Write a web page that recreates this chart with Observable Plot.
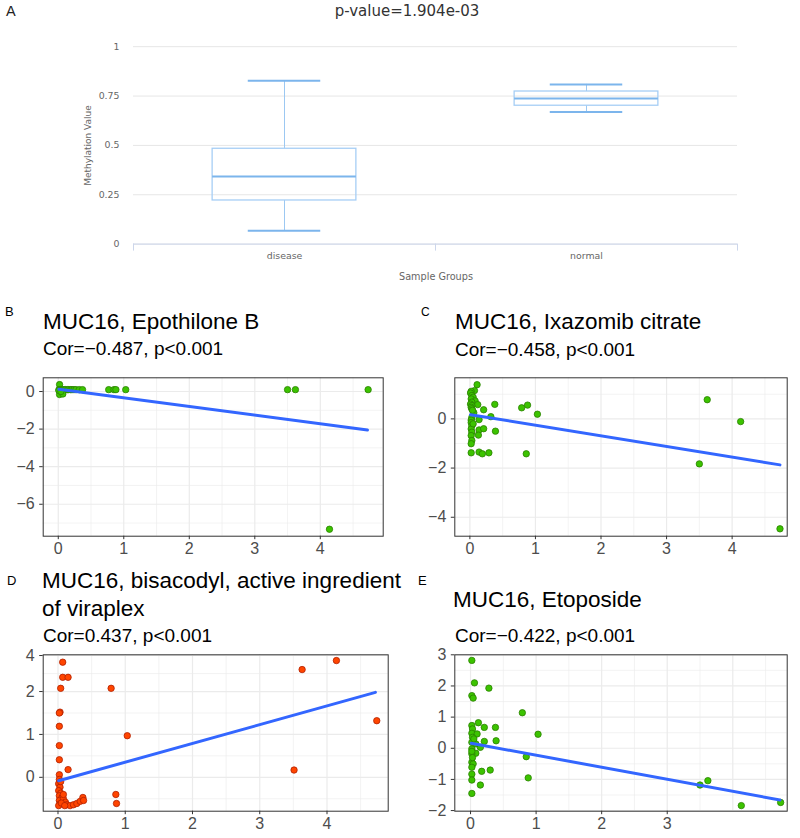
<!DOCTYPE html>
<html>
<head>
<meta charset="utf-8">
<script src="https://cdn.jsdelivr.net/npm/d3@7"></script>
<script src="https://cdn.jsdelivr.net/npm/@observablehq/plot@0.6"></script>
<style>
html,body{margin:0;padding:0;background:#fff;overflow:hidden;}
#root{position:relative;width:800px;height:838px;overflow:hidden;background:#fff;}
.panel{position:absolute;}
.panel svg{background:transparent !important;}
.t{position:absolute;white-space:nowrap;line-height:1;font-family:"Liberation Sans",Arial,sans-serif;color:#000;}
</style>
</head>
<body>
<div id="root"></div>
<script>
// ---------- Panel A: box plot ----------
const groups = ["disease", "normal"];
const whiskerLow = [0.067, 0.669];
const quartile1 = [0.221, 0.701];
const medians = [0.342, 0.737];
const quartile3 = [0.483, 0.773];
const whiskerHigh = [0.828, 0.809];
const aYTicks = [0, 0.25, 0.5, 0.75, 1];
const aYTickLabels = ["0", "0.25", "0.5", "0.75", "1"];

// ---------- Panel B: MUC16, Epothilone B ----------
const bX = [0.02, 0.01, 0.03, 0.06, 0.09, 0.11, 0.14, 0.16, 0.19, 0.21, 0.24, 0.27, 0.32, 0.37, 0.02, 0.07, 0.01, 0.04, 0.77, 0.85, 0.88, 1.03, 3.50, 3.62, 4.73, 4.14];
const bY = [0.37, 0.10, 0.10, 0.10, 0.10, 0.10, 0.10, 0.10, 0.10, 0.10, 0.10, 0.10, 0.10, 0.10, -0.16, -0.13, 0.05, 0.00, 0.10, 0.10, 0.10, 0.10, 0.10, 0.10, 0.10, -7.33];
const bFitX = [0.01, 4.72];
const bFitY = [0.12, -2.05];

// ---------- Panel C: MUC16, Ixazomib citrate ----------
const cX = [0.11, 0.07, 0.02, 0.01, 0.03, 0.05, 0.02, 0.08, 0.03, 0.01, 0.12, 0.03, 0.02, 0.03, 0.21, 0.38, 0.79, 0.88, 1.03, 0.32, 0.03, 0.02, 0.14, 0.02, 0.03, 0.02, 0.03, 0.02, 0.03, 0.02, 0.14, 0.21, 0.13, 0.39, 0.02, 0.14, 0.19, 0.29, 0.86, 3.50, 3.62, 4.13, 4.73, 0.06, 0.04, 0.05];
const cY = [1.39, 1.15, 1.12, 1.05, 0.95, 0.88, 0.81, 0.73, 0.68, 0.60, 0.58, 0.54, 0.47, 0.41, 0.37, 0.59, 0.45, 0.56, 0.19, 0.09, 0.06, -0.05, -0.03, -0.15, -0.27, -0.41, -0.54, -0.68, -0.88, -1.01, -0.45, -0.40, -0.66, -0.50, -1.38, -1.35, -1.42, -1.38, -1.42, -1.83, 0.78, -0.11, -4.47, 0.25, 0.35, -0.20];
const cFitX = [0.01, 4.73];
const cFitY = [0.17, -1.87];

// ---------- Panel D: MUC16, bisacodyl ----------
const dX = [0.07, 0.07, 0.15, 0.04, 0.79, 0.03, 0.02, 0.02, 0.02, 0.02, 0.15, 1.03, 3.63, 4.14, 4.74, 3.51, 0.86, 0.87, 0.02, 0.02, 0.01, 0.03, 0.01, 0.04, 0.02, 0.06, 0.02, 0.08, 0.11, 0.03, 0.13, 0.18, 0.23, 0.28, 0.33, 0.37, 0.38, 0.08, 0.01, 0.05, 0.10, 0.04];
const dY = [3.63, 2.79, 2.79, 2.18, 2.18, 1.52, 1.50, 1.19, 0.74, 0.41, 0.18, 0.97, 3.22, 3.72, 1.32, 0.17, -0.40, -0.61, 0.06, -0.05, -0.15, -0.23, -0.31, -0.37, -0.43, -0.47, -0.54, -0.50, -0.58, -0.62, -0.64, -0.66, -0.64, -0.61, -0.56, -0.47, -0.54, -0.40, -0.66, -0.60, -0.66, -0.10];
const dFitX = [0.01, 4.72];
const dFitY = [-0.08, 1.98];
const dYTicks = [0, 1, 2, 4];

// ---------- Panel E: MUC16, Etoposide ----------
const eX = [0.02, 0.06, 0.28, 0.02, 0.04, 0.79, 0.12, 0.21, 0.38, 0.02, 0.03, 0.02, 0.10, 0.03, 1.03, 0.21, 0.39, 0.02, 0.08, 0.15, 0.02, 0.08, 0.02, 0.02, 0.85, 0.02, 0.04, 0.02, 0.17, 0.30, 0.02, 0.02, 0.88, 0.15, 0.02, 3.50, 3.62, 4.13, 4.73, 0.05, 0.03];
const eY = [2.82, 2.10, 1.93, 1.69, 1.61, 1.14, 0.82, 0.67, 0.67, 0.73, 0.62, 0.48, 0.46, 0.35, 0.45, 0.22, 0.24, 0.19, 0.14, 0.03, -0.02, -0.16, -0.18, -0.10, -0.27, -0.45, -0.50, -0.61, -0.74, -0.70, -0.83, -1.02, -0.95, -1.18, -1.45, -1.18, -1.04, -1.84, -1.74, 0.30, -0.30];
const eFitX = [0.01, 4.72];
const eFitY = [0.16, -1.66];
const eXTicks = [0, 1, 2, 3];

const root = document.getElementById("root");

function place(node, left, top) {
  const d = document.createElement("div");
  d.className = "panel";
  d.style.left = left + "px";
  d.style.top = top + "px";
  d.appendChild(node);
  root.appendChild(d);
}
function text(str, left, baseline, size, extra) {
  const d = document.createElement("div");
  d.className = "t";
  d.textContent = str;
  d.style.fontSize = size + "px";
  d.style.left = left + "px";
  d.style.top = (baseline - 0.847 * size) + "px";
  if (extra) Object.assign(d.style, extra);
  root.appendChild(d);
  return d;
}

// ---------- Draw panel A ----------
{
  const W = 800, H = 290, ML = 133, MR = 63, MT = 46.2, MB = 46.4;
  const bw = (W - ML - MR) / groups.length;
  const boxInset = bw * 0.262;
  const capInset = bw * 0.38;
  const rows = groups.map((g, i) => ({group: g, lo: whiskerLow[i], q1: quartile1[i], med: medians[i], q3: quartile3[i], hi: whiskerHigh[i]}));
  const axisCol = "#ccd6eb";
  const p = Plot.plot({
    width: W, height: H, marginLeft: ML, marginRight: MR, marginTop: MT, marginBottom: MB,
    style: {fontFamily: "DejaVu Sans, sans-serif", fontSize: "9.4px", color: "#666", background: "transparent"},
    x: {domain: groups, padding: 0},
    y: {domain: [0, 1]},
    marks: [
      Plot.gridY(aYTicks, {stroke: "#e6e6e6", strokeOpacity: 1, strokeWidth: 1}),
      Plot.ruleY([0], {stroke: axisCol, strokeWidth: 1}),
      Plot.ruleX([groups[0]], {dx: -bw / 2, insetTop: H - MT - MB, insetBottom: -7, stroke: axisCol}),
      Plot.ruleX(groups, {dx: bw / 2, insetTop: H - MT - MB, insetBottom: -7, stroke: axisCol}),
      Plot.ruleX(rows, {x: "group", y1: "lo", y2: "q1", stroke: "#9cc8f2", strokeWidth: 1}),
      Plot.ruleX(rows, {x: "group", y1: "q3", y2: "hi", stroke: "#9cc8f2", strokeWidth: 1}),
      Plot.barY(rows, {x: "group", y1: "q1", y2: "q3", fill: "none", stroke: "#a6cef5", strokeWidth: 1.3, insetLeft: boxInset, insetRight: boxInset}),
      Plot.tickY(rows, {x: "group", y: "med", stroke: "#7cb5ec", strokeWidth: 2, insetLeft: boxInset, insetRight: boxInset}),
      Plot.tickY(rows, {x: "group", y: "hi", stroke: "#7cb5ec", strokeWidth: 2, insetLeft: capInset, insetRight: capInset}),
      Plot.tickY(rows, {x: "group", y: "lo", stroke: "#7cb5ec", strokeWidth: 2, insetLeft: capInset, insetRight: capInset}),
      Plot.axisY(aYTicks, {tickSize: 0, tickPadding: 14, label: null, fill: "#666", tickFormat: d => aYTickLabels[aYTicks.indexOf(d)]}),
      Plot.axisX({tickSize: 0, tickPadding: 8.5, label: null, fill: "#666"})
    ]
  });
  place(p, 0, 0);
}

// ---------- Scatter panels ----------
const minus = d => d < 0 ? "\u2212" + Math.abs(d) : String(d);
function range(a, b, s) { const r = []; for (let v = a; v <= b + 1e-9; v += s) r.push(+v.toFixed(3)); return r; }

function scatter(o) {
  const pts = o.xs.map((x, i) => ({x, y: o.ys[i]}));
  const fit = o.fitX.map((x, i) => ({x, y: o.fitY[i]}));
  const grid = {stroke: "#ebebeb", strokeOpacity: 1};
  return Plot.plot({
    width: o.w, height: o.h,
    marginLeft: o.ml, marginRight: o.mr, marginTop: o.mt, marginBottom: o.mb,
    style: {fontFamily: "Liberation Sans, Arial, sans-serif", fontSize: "16px", color: "#4d4d4d", background: "transparent"},
    x: {domain: o.xDomain},
    y: o.y,
    marks: [
      Plot.gridX(o.xMinor, {...grid, strokeWidth: 0.6}),
      Plot.gridY(o.yMinor, {...grid, strokeWidth: 0.6}),
      Plot.gridX(o.xMajor, {...grid, strokeWidth: 1.2}),
      Plot.gridY(o.yMajor, {...grid, strokeWidth: 1.2}),
      Plot.dot(pts, {x: "x", y: "y", r: 3.2, fill: o.fill, stroke: o.stroke, strokeWidth: 0.8}),
      Plot.line(fit, {x: "x", y: "y", stroke: "#3366ff", strokeWidth: 3}),
      Plot.frame({stroke: "#333", strokeWidth: 1}),
      Plot.axisX(o.xTicks, {tickSize: 3.5, tickPadding: 3, tickFormat: minus, stroke: "#333", fill: "#4d4d4d", label: null}),
      Plot.axisY(o.yTicks, {tickSize: 3.5, tickPadding: 5, tickFormat: minus, stroke: "#333", fill: "#4d4d4d", label: null})
    ]
  });
}

const green = "#3cc300", greenStroke = "#2a8000";
const orange = "#ff4500", orangeStroke = "#b02000";

place(scatter({
  w: 400, h: 270, ml: 42.7, mr: 17.3, mt: 87.3, mb: 24.3,
  xDomain: [-0.23, 4.96], y: {domain: [-7.70, 0.73]},
  xMajor: range(0, 4, 1), xMinor: range(0.5, 4.5, 1), yMajor: [-6, -4, -2, 0], yMinor: [-7, -5, -3, -1],
  xTicks: range(0, 4, 1), yTicks: [-6, -4, -2, 0],
  xs: bX, ys: bY, fitX: bFitX, fitY: bFitY, fill: green, stroke: greenStroke
}), 0, 290);

place(scatter({
  w: 400, h: 270, ml: 54.3, mr: 13.3, mt: 87.3, mb: 24.3,
  xDomain: [-0.23, 4.84], y: {domain: [-4.77, 1.67]},
  xMajor: range(0, 4, 1), xMinor: range(0.5, 4.5, 1), yMajor: [-4, -2, 0], yMinor: [-3, -1, 1],
  xTicks: range(0, 4, 1), yTicks: [-4, -2, 0],
  xs: cX, ys: cY, fitX: cFitX, fitY: cFitY, fill: green, stroke: greenStroke
}), 400, 290);

// Panel D's y axis is compressed above 2 (ticks 0, 1, 2, 4 as in the reference)
const dCompress = 0.42;
const dWarp = v => v <= 2 ? v : 2 + (v - 2) * dCompress;
place(scatter({
  w: 400, h: 278, ml: 42.7, mr: 12.3, mt: 94.3, mb: 27.3,
  xDomain: [-0.22, 4.91], y: {transform: dWarp, domain: [-0.79, dWarp(4.04)]},
  xMajor: range(0, 4, 1), xMinor: range(0.5, 4.5, 1), yMajor: dYTicks, yMinor: [-0.5, 0.5, 1.5, 3],
  xTicks: range(0, 4, 1), yTicks: dYTicks,
  xs: dX, ys: dY, fitX: dFitX, fitY: dFitY, fill: orange, stroke: orangeStroke
}), 0, 560);

place(scatter({
  w: 400, h: 278, ml: 54.3, mr: 13.3, mt: 94.3, mb: 27.3,
  xDomain: [-0.24, 4.83], y: {domain: [-2.02, 3.0]},
  xMajor: range(0, 4, 1), xMinor: range(0.5, 4.5, 1), yMajor: [-2, -1, 0, 1, 2, 3], yMinor: [-1.5, -0.5, 0.5, 1.5, 2.5],
  xTicks: eXTicks, yTicks: [-2, -1, 0, 1, 2, 3],
  xs: eX, ys: eY, fitX: eFitX, fitY: eFitY, fill: green, stroke: greenStroke
}), 400, 560);

// ---------- Text (titles, labels) ----------
text("A", 6, 16.5, 14.5, {color: "#222"});
const tA = text("p-value=1.904e-03", 0, 16.5, 15, {fontFamily: "DejaVu Sans, sans-serif", color: "#333", width: "800px", textAlign: "center", left: "0px"});
tA.style.left = "7px";
text("Methylation Value", 88 - 50, 145 + 3.5, 9, {fontFamily: "DejaVu Sans, sans-serif", color: "#666", width: "100px", textAlign: "center", transform: "rotate(-90deg)", transformOrigin: "50% 50%"});
text("Sample Groups", 336, 280.5, 9.7, {fontFamily: "DejaVu Sans, sans-serif", color: "#666", width: "200px", textAlign: "center"});

text("B", 5, 316, 13);
text("MUC16, Epothilone B", 43, 330, 22.5);
text("Cor=\u22120.487, p<0.001", 43, 355.5, 19);

text("C", 421, 316, 12);
text("MUC16, Ixazomib citrate", 455, 330, 22.5);
text("Cor=\u22120.458, p<0.001", 455, 356, 19);

text("D", 7, 585, 13);
text("MUC16, bisacodyl, active ingredient", 42, 589, 22.5);
text("of viraplex", 42, 617, 22.5);
text("Cor=0.437, p<0.001", 43, 642, 19);

text("E", 418, 585, 13);
text("MUC16, Etoposide", 453, 608, 22.5);
text("Cor=\u22120.422, p<0.001", 455, 642, 19);
</script>
</body>
</html>
